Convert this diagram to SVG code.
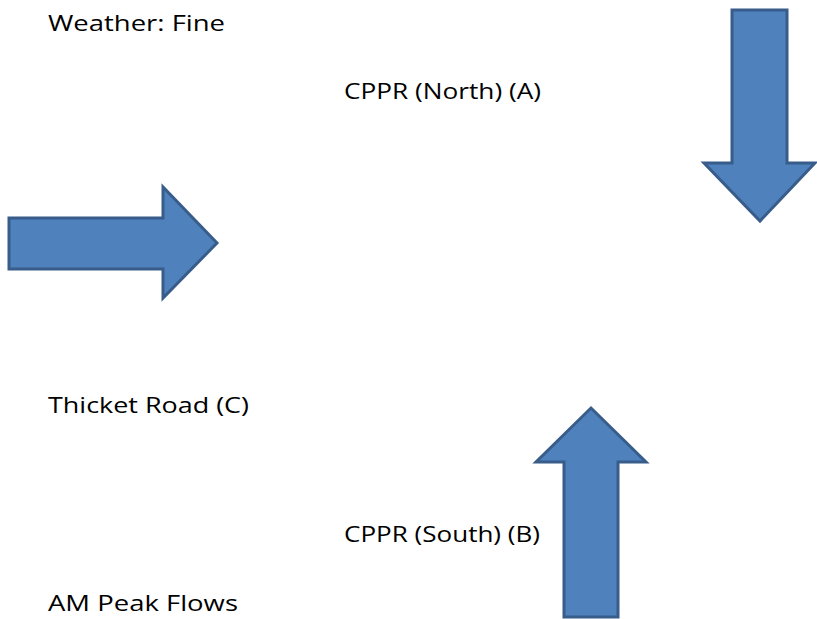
<svg xmlns="http://www.w3.org/2000/svg" width="817" height="619" viewBox="0 0 817 619">
<style>
.arrow{fill:#4f81bd;stroke:#385d8a;stroke-width:3;stroke-linejoin:miter}
.lbl{font-family:"Open Sans","Liberation Sans",sans-serif;font-size:21px;fill:#000}
</style>
<rect width="817" height="619" fill="#fff"/>
<g id="label-weather"><text class="lbl" x="48" y="31" textLength="177" lengthAdjust="spacingAndGlyphs">Weather: Fine</text></g>
<g id="label-north"><text class="lbl" x="344" y="99" textLength="197" lengthAdjust="spacingAndGlyphs">CPPR (North) (A)</text></g>
<g id="label-thicket"><text class="lbl" x="48" y="413" textLength="201" lengthAdjust="spacingAndGlyphs">Thicket Road (C)</text></g>
<g id="label-south"><text class="lbl" x="344" y="542" textLength="196" lengthAdjust="spacingAndGlyphs">CPPR (South) (B)</text></g>
<g id="label-am"><text class="lbl" x="48" y="611" textLength="190" lengthAdjust="spacingAndGlyphs">AM Peak Flows</text></g>
<g id="connectors">
<path id="arrow-east" class="arrow" d="M9,218 L163,218 L163,187 L217,243 L163,298 L163,269 L9,269 Z"/>
<path id="arrow-south" class="arrow" d="M732,10 L787,10 L787,163 L815,163 L760,221 L704,163 L732,163 Z"/>
<path id="arrow-north" class="arrow" d="M564,617 L618,617 L618,462 L646,462 L591,408 L536,462 L564,462 Z"/>
</g>
</svg>
